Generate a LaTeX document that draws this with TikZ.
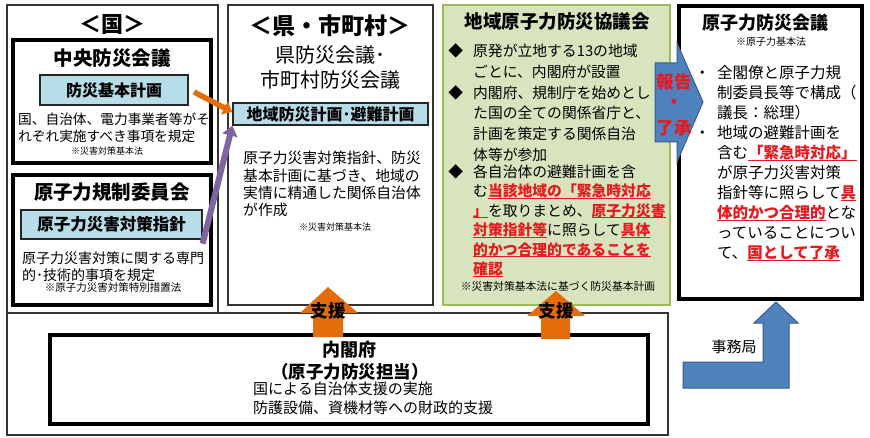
\documentclass[tikz,border=0pt]{standalone}
\usepackage{fontspec}
\setmainfont{Noto Sans CJK JP}
\usetikzlibrary{arrows.meta}
\definecolor{boxblue}{RGB}{183,221,232}
\definecolor{gfill}{RGB}{215,228,189}
\definecolor{gdraw}{RGB}{155,187,89}
\definecolor{myorange}{RGB}{228,108,10}
\definecolor{mypurple}{RGB}{128,100,162}
\definecolor{abluefill}{RGB}{79,129,189}
\definecolor{abluedraw}{RGB}{56,93,138}
\definecolor{myred}{RGB}{232,25,30}
\newcommand\fsz[2]{\fontsize{#1}{#2}\selectfont\lineskiplimit=-20pt }
\newcommand\redu[1]{\setbox0\hbox{{\bfseries\color{myred}#1}}{\rlap{\textcolor{myred}{\rule[-2.4pt]{\wd0}{1pt}}}\box0}}
\begin{document}
\begin{tikzpicture}[x=1pt,y=-1pt,
  thinframe/.style={draw=black!80, line width=1.3pt},
  thickframe/.style={draw=black, line width=3.2pt},
  planbox/.style={draw=black!85, line width=1.3pt, fill=boxblue, inner sep=0pt, font=\bfseries\fsz{16}{16}},
  ctr/.style={inner sep=0pt, anchor=center},
  bodytext/.style={inner sep=0pt, anchor=north west, align=left},
  notetext/.style={inner sep=0pt, anchor=center, font=\fsz{9}{9}},
  sienarrow/.style={fill=myorange, draw=none},
  bluearrow/.style={fill=abluefill, draw=abluedraw, line width=1pt}]
\useasboundingbox (0,0) rectangle (870,438);
\fill[white] (0,0) rectangle (870,438);
% frames
\draw[thinframe] (7,5) rectangle (218,313);
\draw[thinframe] (7,313) rectangle (668,435);
\draw[thinframe] (228,5) rectangle (433,305);
\draw[draw=gdraw, fill=gfill, line width=2.8pt] (443,5) rectangle (670,305);
\draw[thickframe] (679,6) rectangle (862,299);
\draw[thickframe] (13,40) rectangle (211,163);
\draw[thickframe] (13,175) rectangle (211,305);
\draw[thickframe] (50,335) rectangle (648,424);
% plan boxes
\node[planbox, minimum width=148pt, minimum height=30pt] (kihon) at (114,90) {防災基本計画};
\node[planbox, minimum width=181pt, minimum height=29pt, font=\bfseries\fsz{16.5}{16.5}] (shishin) at (111.5,224.5) {原子力災害対策指針};
\node[planbox, minimum width=195pt, minimum height=22pt] (chiiki) at (330.5,114) {地域防災計画･避難計画};
% connectors
\coordinate (oa) at (194,92);
\draw[myorange, line width=5.5pt, -{Triangle[length=9pt,width=14pt]}] (oa) -- ([yshift=2pt]chiiki.west);
\draw[mypurple, line width=6pt, -{Triangle[length=10pt,width=15pt]}] ([yshift=-4pt]shishin.south east) -- (chiiki.south west);
% left column
\node[ctr, font=\bfseries\fsz{22}{22}] (kunit) at (112,25) {＜国＞};
\node[ctr, font=\bfseries\fsz{19.5}{19.5}] (chuo) at (112,58) {中央防災会議};
\node[bodytext, font=\fsz{13.7}{16.8}] (kunitxt) at (18,112.5) {国、自治体、電力事業者等がそ\\れぞれ実施すべき事項を規定};
\node[notetext] (kuninote) at (107,151) {※災害対策基本法};
\node[ctr, font=\bfseries\fsz{19.5}{19.5}] (kisei) at (112,192) {原子力規制委員会};
\node[bodytext, font=\fsz{14}{16.5}] (kiseitxt) at (22,251.5) {原子力災害対策に関する専門\\的･技術的事項を規定};
\node[notetext, font=\fsz{10.5}{10.5}] (kiseinote) at (113,288) {※原子力災害対策特別措置法};
% middle column
\node[ctr, font=\bfseries\fsz{23}{23}] (kent) at (330,26) {＜県・市町村＞};
\node[ctr, font=\fsz{20}{20}] (ken1) at (330,55) {県防災会議･};
\node[ctr, font=\fsz{20}{20}] (ken2) at (330,80) {市町村防災会議};
\node[bodytext, font=\fsz{14.8}{17.3}] (kentxt) at (243,151.2) {原子力災害対策指針、防災\\基本計画に基づき、地域の\\実情に精通した関係自治体\\が作成};
\node[notetext] (kennote) at (335,227) {※災害対策基本法};
% green column
\node[ctr, font=\bfseries\fsz{18.5}{18.5}] (kyogi) at (557,22) {地域原子力防災協議会};
\node[bodytext, font=\fsz{14.8}{21}] (g1) at (473,43) {\llap{◆\kern10pt}原発が立地する13の地域\\ごとに、内閣府が設置};
\node[bodytext, font=\fsz{14.8}{20.7}] (g2) at (473,85) {\llap{◆\kern10pt}内閣府、規制庁を始めとし\\た国の全ての関係省庁と、\\計画を策定する関係自治\\体等が参加};
\node[bodytext, font=\fsz{14.8}{19.5}] (g3) at (473,164) {\llap{◆\kern10pt}各自治体の避難計画を含\\む\redu{当該地域の「緊急時対応}\\\redu{」}を取りまとめ、\redu{原子力災害}\\\redu{対策指針等}に照らして\redu{具体}\\\redu{的かつ合理的であることを}\\\redu{確認}};
\node[notetext, font=\fsz{10.8}{10.8}] (gnote) at (558,286) {※災害対策基本法に基づく防災基本計画};
% right column
\node[ctr, font=\bfseries\fsz{18}{18}] (gensi) at (765,23) {原子力防災会議};
\node[notetext, font=\fsz{10}{10}] (gensinote) at (771,42) {※原子力基本法};
\node[bodytext, font=\fsz{15.5}{20}] (rtxt) at (717,64.9) {\llap{・\kern7pt}全閣僚と原子力規\\制委員長等で構成（\\議長：総理）\\\llap{・\kern7pt}地域の避難計画を\\含む\redu{「緊急時対応」}\\が原子力災害対策\\指針等に照らして\redu{具}\\\redu{体的かつ合理的}とな\\っていることについ\\て、\redu{国として了承}};
% bottom
\node[ctr, font=\bfseries\fsz{18}{18}] (naikaku) at (349,350) {内閣府};
\node[ctr, font=\bfseries\fsz{17.5}{17.5}] (tanto) at (350,372) {（原子力防災担当）};
\node[bodytext, font=\fsz{15}{19}] (ntxt) at (253,382) {国による自治体支援の実施\\防護設備、資機材等への財政的支援};
% support arrows
\fill[sienarrow] (328,287) -- (358,313) -- (343,313) -- (343,337) -- (313,337) -- (313,313) -- (300,313) -- cycle;
\node[ctr, font=\bfseries\fsz{17.5}{17.5}] (sien1) at (328,311) {支援};
\fill[sienarrow] (556,291) -- (585,316) -- (570,316) -- (570,339) -- (541,339) -- (541,316) -- (527,316) -- cycle;
\node[ctr, font=\bfseries\fsz{17.5}{17.5}] (sien2) at (556,311) {支援};
% report arrow
\filldraw[bluearrow] (655,63) -- (677,63) -- (677,43) -- (703,102) -- (677,162) -- (677,142) -- (655,142) -- cycle;
\node[ctr, font=\bfseries\fsz{17.5}{17.5}, text=myred] (hou) at (674,82) {報告};
\node[ctr, font=\bfseries\fsz{17.5}{17.5}, text=myred] (naka) at (674,104) {・};
\node[ctr, font=\bfseries\fsz{17.5}{17.5}, text=myred] (ryo) at (674,128) {了承};
% secretariat arrow
\filldraw[bluearrow] (683,362) -- (763,362) -- (763,323) -- (754,323) -- (776,302) -- (798,323) -- (789,323) -- (789,388) -- (683,388) -- cycle;
\node[ctr, font=\fsz{15}{15}] (jimu) at (734,347) {事務局};
\end{tikzpicture}
\end{document}
